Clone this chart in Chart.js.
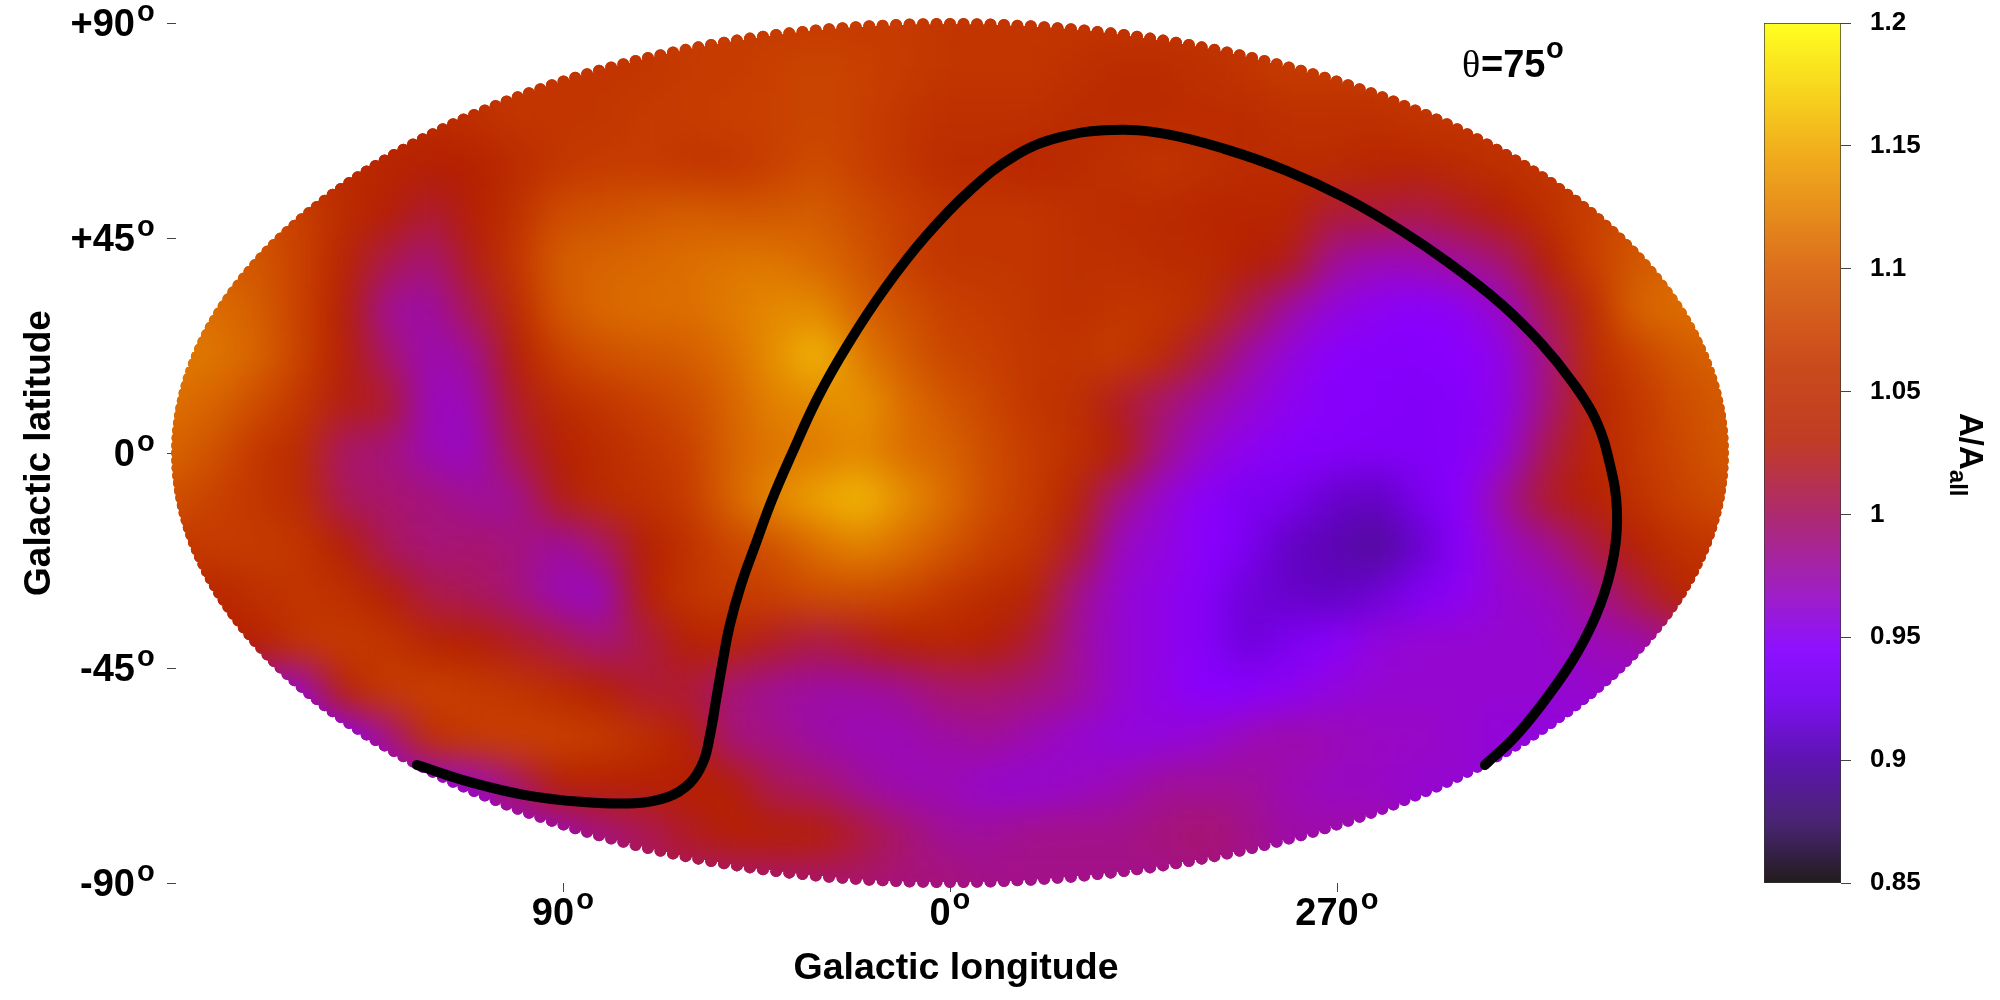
<!DOCTYPE html>
<html>
<head>
<meta charset="utf-8">
<style>
  html, body { margin: 0; background: #fff; }
  canvas { position: absolute; top: 0; }
  #map { left: 0; width: 2000px; height: 1000px; }
  #bar { left: 1700px; width: 300px; height: 1000px; }
</style>
</head>
<body>
<canvas id="map" width="2000" height="1000"></canvas>
<canvas id="bar" width="300" height="1000"></canvas>
<script src="https://cdn.jsdelivr.net/npm/chart.js@4"></script>
<script>
const _ = null

// map columns, axis degrees, left to right
const mapX = [180, 170, 160, 150, 140, 130, 120, 110, 100, 90, 80, 70, 60, 50, 40, 30, 20, 10, 0,
  -10, -20, -30, -40, -50, -60, -70, -80, -90, -100, -110, -120, -130, -140, -150, -160, -170, -180]
const mapY = [90, 80, 70, 60, 50, 40, 30, 20, 10, 0, -10, -20, -30, -40, -50, -60, -70, -80, -90]

// A/Aall, one list per row
const rowP90 = [_, _, _, _, _, _, _, _, _, _, _, _, 1.055, 1.055, 1.055, 1.055, 1.055, 1.055, 1.05, 1.05, 1.05, 1.05, 1.05, 1.05, 1.05, _, _, _, _, _, _, _, _, _, _, _, _]
const rowP80 = [_, _, _, _, _, _, _, _, 1.05, 1.05, 1.05, 1.05, 1.055, 1.055, 1.06, 1.065, 1.06, 1.055, 1.05, 1.05, 1.05, 1.045, 1.04, 1.04, 1.045, 1.05, 1.055, 1.055, 1.055, _, _, _, _, _, _, _, _]
const rowP70 = [_, _, _, _, _, 1.04, 1.04, 1.045, 1.05, 1.05, 1.05, 1.055, 1.055, 1.06, 1.06, 1.065, 1.06, 1.05, 1.045, 1.045, 1.045, 1.04, 1.04, 1.04, 1.04, 1.04, 1.045, 1.045, 1.045, 1.05, 1.05, 1.05, _, _, _, _, _]
const rowP60 = [_, _, _, 1.04, 1.04, 1.035, 1.03, 1.03, 1.04, 1.05, 1.055, 1.055, 1.05, 1.05, 1.06, 1.07, 1.06, 1.05, 1.04, 1.04, 1.035, 1.04, 1.045, 1.05, 1.045, 1.04, 1.04, 1.04, 1.035, 1.035, 1.04, 1.045, 1.05, 1.05, _, _, _]
const rowP50 = [_, _, 1.07, 1.06, 1.04, 1.03, 1.015, 1.03, 1.045, 1.07, 1.075, 1.08, 1.085, 1.08, 1.08, 1.085, 1.07, 1.06, 1.05, 1.05, 1.05, 1.045, 1.04, 1.04, 1.035, 1.035, 1.035, 1.015, 1.015, 1.01, 1.02, 1.03, 1.045, 1.06, 1.07, _, _]
const rowP40 = [_, 1.08, 1.08, 1.06, 1.035, 1.01, 0.995, 1.025, 1.05, 1.085, 1.09, 1.095, 1.1, 1.105, 1.105, 1.095, 1.08, 1.06, 1.05, 1.05, 1.05, 1.045, 1.045, 1.04, 1.04, 1.03, 1.025, 0.985, 0.975, 0.975, 0.985, 1.0, 1.03, 1.06, 1.08, 1.09, _]
const rowP30 = [1.1, 1.1, 1.085, 1.06, 1.03, 0.985, 0.98, 1.01, 1.04, 1.08, 1.095, 1.1, 1.1, 1.11, 1.12, 1.12, 1.09, 1.075, 1.06, 1.055, 1.05, 1.045, 1.05, 1.05, 1.04, 1.01, 0.98, 0.96, 0.95, 0.945, 0.95, 0.97, 1.01, 1.04, 1.09, 1.1, 1.1]
const rowP20 = [1.11, 1.105, 1.09, 1.06, 1.03, 1.0, 0.975, 0.985, 1.03, 1.06, 1.075, 1.08, 1.085, 1.1, 1.125, 1.155, 1.11, 1.085, 1.065, 1.06, 1.05, 1.05, 1.055, 1.04, 1.01, 0.98, 0.96, 0.945, 0.94, 0.94, 0.945, 0.955, 0.995, 1.04, 1.06, 1.08, 1.09]
const rowP10 = [1.1, 1.09, 1.07, 1.05, 1.025, 1.02, 0.97, 0.975, 1.02, 1.04, 1.05, 1.06, 1.07, 1.09, 1.115, 1.12, 1.13, 1.1, 1.08, 1.065, 1.05, 1.045, 1.02, 1.0, 0.98, 0.965, 0.95, 0.94, 0.94, 0.935, 0.94, 0.955, 0.995, 1.035, 1.05, 1.07, 1.08]
const rowZ00 = [1.09, 1.075, 1.05, 1.04, 1.0, 0.995, 0.975, 0.97, 1.01, 1.03, 1.04, 1.05, 1.06, 1.09, 1.105, 1.11, 1.12, 1.1, 1.09, 1.07, 1.055, 1.045, 1.03, 0.99, 0.965, 0.95, 0.94, 0.94, 0.935, 0.935, 0.94, 0.96, 1.01, 1.035, 1.05, 1.065, 1.08]
const rowM10 = [1.075, 1.06, 1.05, 1.04, 1.005, 1.0, 0.995, 0.985, 0.985, 1.025, 1.04, 1.045, 1.055, 1.09, 1.12, 1.14, 1.155, 1.125, 1.1, 1.07, 1.055, 1.035, 0.99, 0.965, 0.945, 0.93, 0.925, 0.91, 0.905, 0.925, 0.945, 0.985, 1.02, 1.03, 1.045, 1.06, 1.07]
const rowM20 = [1.05, 1.055, 1.055, 1.05, 1.03, 1.005, 0.995, 1.0, 0.995, 0.98, 1.0, 1.03, 1.045, 1.065, 1.075, 1.1, 1.115, 1.1, 1.08, 1.06, 1.05, 1.02, 0.97, 0.96, 0.945, 0.93, 0.905, 0.9, 0.89, 0.91, 0.945, 0.97, 0.985, 1.01, 1.03, 1.045, 1.05]
const rowM30 = [1.04, 1.035, 1.045, 1.05, 1.045, 1.03, 1.01, 1.005, 0.995, 0.975, 0.97, 1.03, 1.05, 1.055, 1.06, 1.07, 1.07, 1.065, 1.05, 1.04, 1.035, 0.99, 0.965, 0.955, 0.94, 0.915, 0.91, 0.905, 0.915, 0.935, 0.95, 0.965, 0.97, 0.985, 1.01, 1.035, 1.04]
const rowM40 = [_, 1.03, 1.03, 1.05, 1.055, 1.05, 1.035, 1.03, 1.02, 1.01, 0.995, 1.01, 1.03, 1.035, 1.02, 1.01, 1.02, 1.03, 1.035, 1.03, 1.015, 0.985, 0.965, 0.955, 0.94, 0.915, 0.93, 0.945, 0.96, 0.965, 0.965, 0.965, 0.965, 0.975, 0.975, 0.99, _]
const rowM50 = [_, _, 0.97, 0.97, 1.035, 1.055, 1.06, 1.055, 1.05, 1.04, 1.03, 1.015, 1.015, 0.995, 0.985, 0.98, 0.98, 0.985, 1.0, 1.0, 0.995, 0.985, 0.965, 0.955, 0.945, 0.945, 0.95, 0.96, 0.965, 0.965, 0.965, 0.965, 0.965, 0.965, 0.97, _, _]
const rowM60 = [_, _, _, 0.95, 0.95, 0.99, 1.045, 1.055, 1.06, 1.06, 1.055, 1.045, 1.03, 0.995, 0.99, 0.98, 0.975, 0.975, 0.98, 0.985, 0.975, 0.965, 0.96, 0.96, 0.965, 0.975, 0.98, 0.975, 0.97, 0.97, 0.965, 0.96, 0.96, 0.96, _, _, _]
const rowM70 = [_, _, _, _, _, 0.96, 0.96, 0.97, 1.0, 1.03, 1.03, 1.03, 1.03, 1.03, 1.005, 1.0, 0.985, 0.975, 0.975, 0.965, 0.965, 0.97, 0.975, 0.985, 0.985, 0.985, 0.975, 0.97, 0.97, 0.965, 0.965, 0.965, _, _, _, _, _]
const rowM80 = [_, _, _, _, _, _, _, _, 0.97, 0.975, 0.995, 1.005, 1.02, 1.03, 1.03, 1.03, 1.015, 1.0, 0.985, 0.985, 0.99, 0.99, 0.99, 0.995, 1.0, 0.99, 0.98, 0.98, 0.98, _, _, _, _, _, _, _, _]
const rowM90 = [_, _, _, _, _, _, _, _, _, _, _, _, 1.0, 1.0, 1.0, 1.0, 1.0, 0.995, 0.995, 0.99, 0.99, 0.99, 0.99, 0.99, 0.99, _, _, _, _, _, _, _, _, _, _, _, _]
const mapRows = [rowP90, rowP80, rowP70, rowP60, rowP50, rowP40, rowP30, rowP20, rowP10, rowZ00,
  rowM10, rowM20, rowM30, rowM40, rowM50, rowM60, rowM70, rowM80, rowM90]

// theta = 75 contour, axis degrees
const curveX = [124, 111.6, 98.8, 86, 73.3, 65.6, 60.5, 57.4, 55.8, 54.4, 53, 51.2, 48.6, 45.3, 41.4, 36.7, 30.7, 23.7, 15.1, 5.8,
  -4.7, -15.1, -25.6, -37.7, -50, -64, -77.9, -91.9, -104.7, -116.3, -127.9, -137.2, -144.7, -150.2, -153.5, -155.1, -154.4, -151.2, -145.8, -138.4, -131.4, -124.4]
const curveY = [-65.3, -68.9, -71.6, -73, -73.3, -72, -69.1, -64.7, -59, -51.7, -44.4, -36, -27.6, -19.3, -9.8, 0, 11.7, 22.8, 34.5, 45.2,
  55, 62.2, 66.1, 67.6, 66.8, 63.6, 59.2, 53.4, 46.7, 39.6, 31.4, 23.2, 14.9, 6.9, -2.5, -11.9, -21.3, -31.8, -41.9, -51.7, -59.4, -65.3]

const xTicks = [90, 0, -90]
const xTickLabels = ['90', '0', '270']
const yTicks = [90, 45, 0, -45, -90]
const yTickLabels = ['+90', '+45', '0', '-45', '-90']
const barTicks = [1.2, 1.15, 1.1, 1.05, 1, 0.95, 0.9, 0.85]

// colour scale of the map
const paletteLevels = [0.85, 0.875, 0.9, 0.925, 0.945, 0.97, 1.0, 1.03, 1.06, 1.1, 1.145, 1.2]
const paletteColors = ['#201418', '#401a68', '#5c04b4', '#7a00ee', '#8a00ff', '#9808c4', '#a8156c', '#b52000', '#c84000', '#dc6e00', '#eeaa00', '#ffff20']
// the colour box is a bit paler than the map
const barColors = ['#221c1c', '#4a2474', '#5e14b0', '#7c10f0', '#8e10ff', '#a020c0', '#ae2a70', '#c03c24', '#ca4a1c', '#dc6e1c', '#f0aa1c', '#ffff20']

const FONT = '"Liberation Sans", Arial, sans-serif'

const hexToRgb = (hex) => [1, 3, 5].map((i) => parseInt(hex.slice(i, i + 2), 16))

const colorOf = (v) => {
  let i = 0
  while (i < paletteLevels.length - 2 && v > paletteLevels[i + 1]) i++
  const t = Math.min(1, Math.max(0, (v - paletteLevels[i]) / (paletteLevels[i + 1] - paletteLevels[i])))
  const a = hexToRgb(paletteColors[i])
  const b = hexToRgb(paletteColors[i + 1])
  return `rgb(${a.map((c, k) => Math.round(c + (b[k] - c) * t)).join(',')})`
}

const heatPoints = []
const heatColors = []
mapRows.forEach((row, r) => row.forEach((v, c) => {
  if (v === null) return
  heatPoints.push({ x: mapX[c], y: mapY[r] })
  heatColors.push(colorOf(v))
}))

// the sky is a ring of little discs round an ellipse
const skyOutline = (ctx, chart) => {
  const { x, y } = chart.scales
  const cx = x.getPixelForValue(0)
  const cy = y.getPixelForValue(0)
  const ax = Math.abs(x.getPixelForValue(180) - cx) - 1
  const ay = Math.abs(y.getPixelForValue(90) - cy) - 1
  ctx.beginPath()
  ctx.ellipse(cx, cy, ax, ay, 0, 0, Math.PI * 2)
  for (let deg = -90; deg <= 90; deg++) {
    const phi = deg * Math.PI / 180
    for (const side of [-1, 1]) {
      const px = cx + side * ax * Math.cos(phi)
      const py = cy + ay * Math.sin(phi)
      ctx.moveTo(px + 6, py)
      ctx.arc(px, py, 6, 0, Math.PI * 2)
    }
  }
}

const smoothHeat = {
  id: 'smoothHeat',
  beforeDatasetDraw (chart, args) {
    if (chart.data.datasets[args.index].label !== 'heat') return
    const layer = document.createElement('canvas')
    layer.width = chart.width
    layer.height = chart.height
    const layerCtx = layer.getContext('2d')
    args.meta.data.forEach((p) => p.draw(layerCtx))
    const ctx = chart.ctx
    ctx.save()
    skyOutline(ctx, chart)
    ctx.clip()
    ctx.drawImage(layer, 0, 0)
    ctx.filter = 'blur(19px)'
    ctx.drawImage(layer, 0, 0)
    ctx.restore()
    return false
  }
}

const degreeMark = (ctx, x, baseline) => {
  ctx.font = `bold 29px ${FONT}`
  ctx.textAlign = 'left'
  ctx.textBaseline = 'alphabetic'
  ctx.fillText('o', x, baseline - 19)
}

const mapLabels = {
  id: 'mapLabels',
  afterDraw (chart) {
    const ctx = chart.ctx
    const { x, y } = chart.scales
    ctx.save()
    ctx.fillStyle = '#000'
    yTicks.forEach((v) => degreeMark(ctx, 137, y.getPixelForValue(v) + 17))
    xTicks.forEach((v, i) => {
      ctx.font = `bold 38px ${FONT}`
      const w = ctx.measureText(xTickLabels[i]).width
      degreeMark(ctx, x.getPixelForValue(v) - 10 + w / 2 + 2, 928)
    })
    // theta label
    ctx.textAlign = 'left'
    ctx.textBaseline = 'alphabetic'
    ctx.font = '38px "Liberation Serif", serif'
    ctx.fillText('θ', 1462, 77)
    ctx.font = `bold 38px ${FONT}`
    ctx.fillText('=75', 1481, 77)
    degreeMark(ctx, 1546, 77)
    // sits a little right of the axis middle in the original
    ctx.font = `bold 37.5px ${FONT}`
    ctx.textAlign = 'center'
    ctx.fillText('Galactic longitude', 956, 979)
    ctx.restore()
  }
}

new Chart(document.getElementById('map'), {
  type: 'scatter',
  plugins: [smoothHeat, mapLabels],
  data: {
    datasets: [
      {
        label: 'curve',
        order: 0,
        data: curveX.map((x, i) => ({ x, y: curveY[i] })),
        showLine: true,
        tension: 0.4,
        borderColor: '#000',
        borderWidth: 10,
        borderCapStyle: 'round',
        pointRadius: 0,
        clip: false
      },
      {
        label: 'heat',
        order: 1,
        data: heatPoints,
        pointStyle: 'rect',
        pointRadius: 36,
        pointBorderWidth: 0,
        pointBackgroundColor: heatColors,
        clip: false
      }
    ]
  },
  options: {
    responsive: false,
    animation: false,
    devicePixelRatio: 1,
    layout: { autoPadding: false, padding: { left: 0, top: 23, right: 276, bottom: 0 } },
    plugins: { legend: { display: false }, tooltip: { enabled: false } },
    scales: {
      x: {
        type: 'linear',
        reverse: true,
        min: -180,
        max: 180,
        afterFit: (s) => { s.height = 117; s.paddingLeft = 0; s.paddingRight = 0 },
        afterBuildTicks: (s) => { s.ticks = xTicks.map((value) => ({ value })) },
        grid: { drawOnChartArea: false, tickLength: 9, color: '#444', lineWidth: 1 },
        border: { display: false },
        ticks: {
          autoSkip: false,
          maxRotation: 0,
          color: '#000',
          padding: 0,
          labelOffset: -10,
          font: { family: FONT, size: 38, weight: 'bold' },
          callback: (v) => xTickLabels[xTicks.indexOf(v)]
        }
      },
      y: {
        type: 'linear',
        min: -90,
        max: 90,
        afterFit: (s) => { s.width = 176; s.paddingTop = 0; s.paddingBottom = 0 },
        afterBuildTicks: (s) => { s.ticks = yTicks.map((value) => ({ value })) },
        grid: { drawOnChartArea: false, tickLength: 9, color: '#444', lineWidth: 1 },
        border: { display: false },
        ticks: {
          autoSkip: false,
          color: '#000',
          padding: 32,
          labelOffset: 3,
          font: { family: FONT, size: 38, weight: 'bold' },
          callback: (v) => yTickLabels[yTicks.indexOf(v)]
        },
        title: {
          display: true,
          text: 'Galactic latitude',
          color: '#000',
          font: { family: FONT, size: 37, weight: 'bold' },
          padding: { top: 18, bottom: 0 }
        }
      }
    }
  }
})

const barGradient = (c) => {
  const area = c.chart.chartArea
  if (!area) return '#888'
  const g = c.chart.ctx.createLinearGradient(0, area.bottom, 0, area.top)
  paletteLevels.forEach((lv, i) => g.addColorStop((lv - 0.85) / 0.35, barColors[i]))
  return g
}

const barTitle = {
  id: 'barTitle',
  afterDraw (chart) {
    const ctx = chart.ctx
    ctx.save()
    ctx.translate(260, 413)
    ctx.rotate(Math.PI / 2)
    ctx.fillStyle = '#000'
    ctx.textAlign = 'left'
    ctx.textBaseline = 'alphabetic'
    ctx.font = `bold 33px ${FONT}`
    ctx.fillText('A/A', 0, 0)
    const w = ctx.measureText('A/A').width
    ctx.font = `bold 24px ${FONT}`
    ctx.fillText('all', w, 10)
    ctx.restore()
  }
}

new Chart(document.getElementById('bar'), {
  type: 'bar',
  plugins: [barTitle],
  data: {
    labels: ['A/Aall'],
    datasets: [{
      data: [[0.85, 1.2]],
      backgroundColor: barGradient,
      borderColor: '#333',
      borderWidth: 1,
      borderSkipped: false,
      barPercentage: 1,
      categoryPercentage: 1
    }]
  },
  options: {
    responsive: false,
    animation: false,
    devicePixelRatio: 1,
    layout: { padding: { left: 64, top: 23, right: 0, bottom: 117 } },
    plugins: { legend: { display: false }, tooltip: { enabled: false } },
    scales: {
      x: { display: false },
      y: {
        position: 'right',
        min: 0.85,
        max: 1.2,
        afterFit: (s) => { s.width = 159; s.paddingTop = 0; s.paddingBottom = 0 },
        afterBuildTicks: (s) => { s.ticks = barTicks.map((value) => ({ value })) },
        grid: { drawOnChartArea: false, tickLength: 10, color: '#444', lineWidth: 1 },
        border: { display: false },
        ticks: {
          autoSkip: false,
          color: '#000',
          padding: 19,
          font: { family: FONT, size: 26, weight: 'bold' },
          callback: (v) => String(v)
        }
      }
    }
  }
})
</script>
</body>
</html>
